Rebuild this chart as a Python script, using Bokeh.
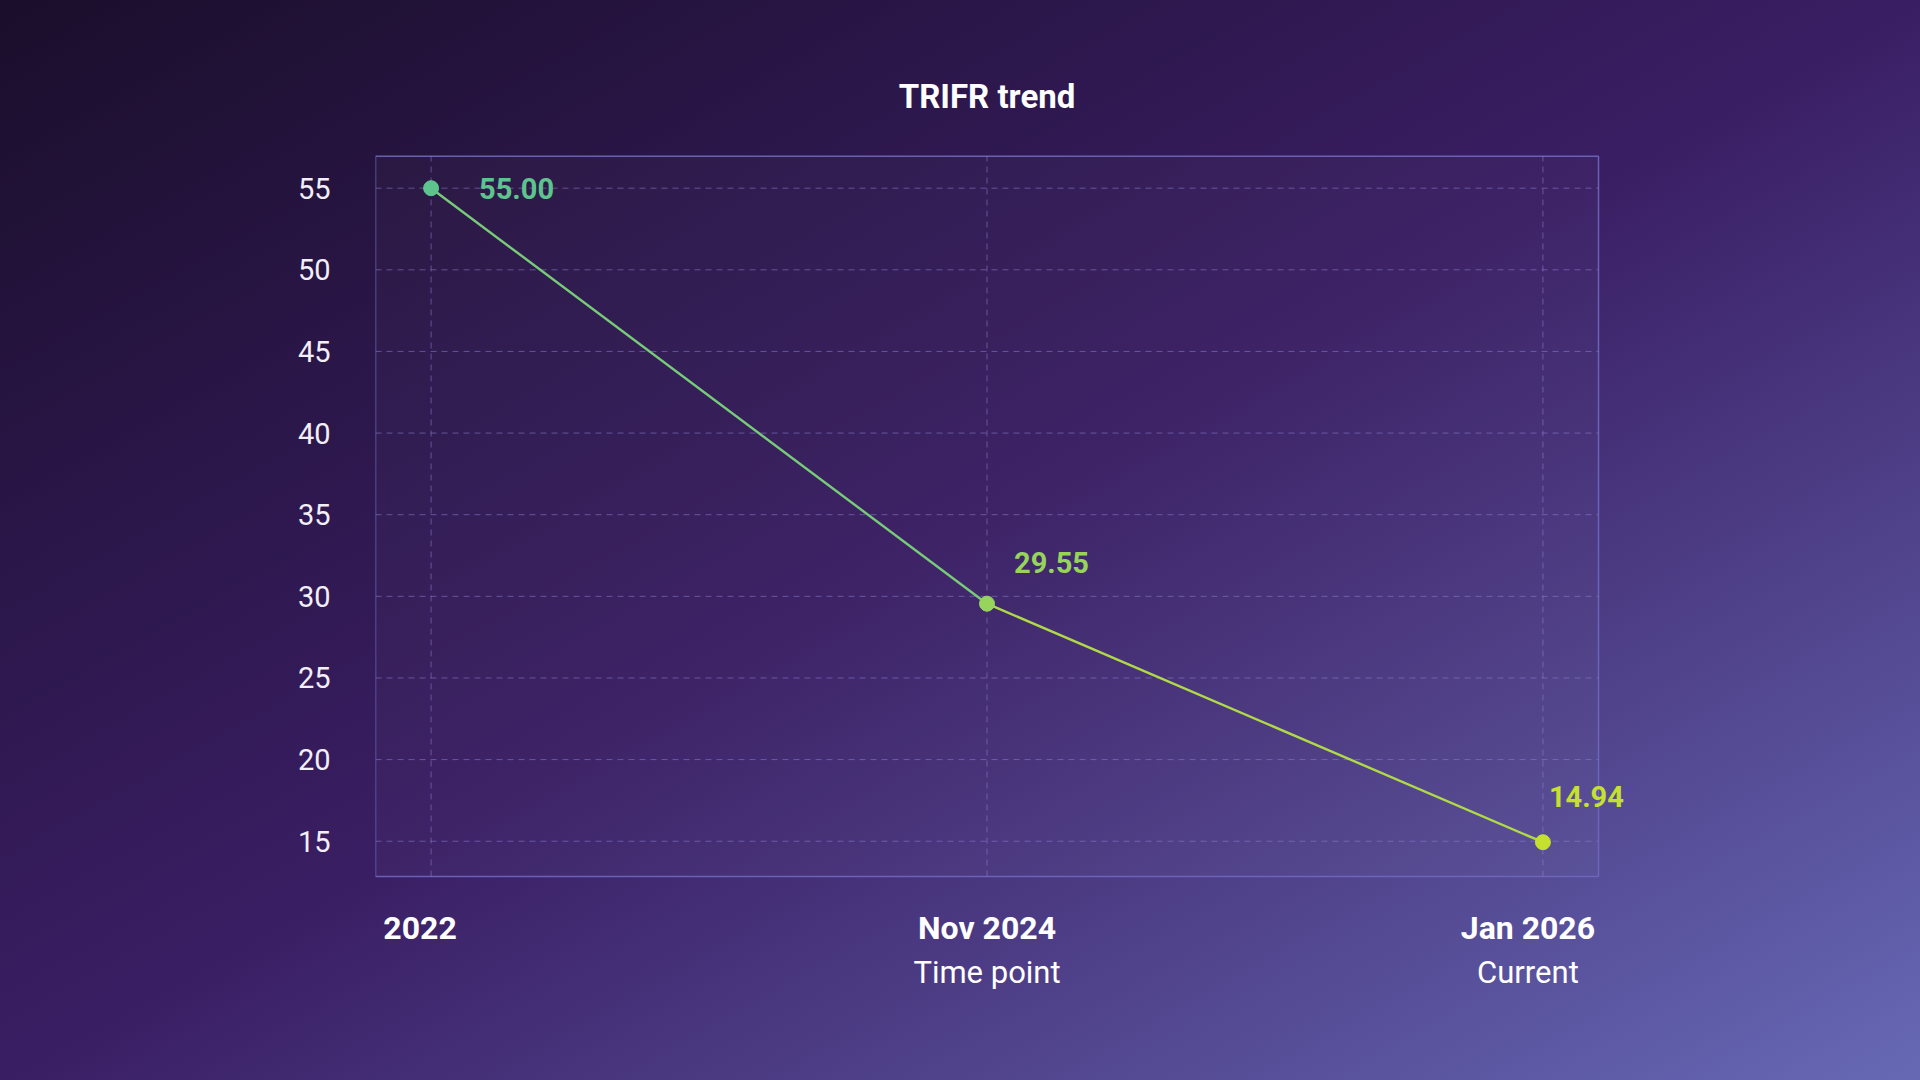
from bokeh.plotting import figure
from bokeh.models import (ColumnDataSource, Label, FixedTicker, Range1d,
                          GlobalInlineStyleSheet)
from bokeh.embed import file_html
from bokeh.resources import INLINE

# ---- data ----
categories = ["2022", "Nov 2024", "Jan 2026"]
subtitles = ["", "Time point", "Current"]
values = [55.00, 29.55, 14.94]
value_labels = ["55.00", "29.55", "14.94"]
y_ticks = [15, 20, 25, 30, 35, 40, 45, 50, 55]
title = "TRIFR trend"

# ---- styles ----
point_colors = ["#5ec48e", "#97d45c", "#c6e030"]
segment_colors = ["#78cb78", "#afda46"]
label_dx = [48, 27, 6]
label_dy = [0, 41, 46]
cat_dx = [-11, 0, -15]

FONT = "Roboto"
xs = list(range(len(categories)))
# visible plot box (data units)
X0, X1 = -0.1, 2.1
Y0, Y1 = 12.84, 56.96
# drawing frame extends beyond the box so outside texts are not clipped
XE = 2.2115
YB, YT = 4.632, 62.82

p = figure(width=1904, height=1064, output_backend="svg", toolbar_location=None,
           x_range=Range1d(X0, XE), y_range=Range1d(YB, YT),
           x_axis_location=None, min_border_left=375, min_border_right=244,
           min_border_top=60, min_border_bottom=54)
p.stylesheets = [GlobalInlineStyleSheet(css=(
    "html{min-height:100%;background:linear-gradient(to bottom right,"
    "#1a0e2b 0%,#3a1e64 50%,#6769b5 100%) fixed;}"
    "body{background:transparent;}"))]
p.styles = {"background": "transparent"}
p.border_fill_alpha = 0
p.background_fill_alpha = 0
p.outline_line_color = None
p.xgrid.visible = False
p.ygrid.visible = False

yax = p.yaxis[0]
yax.ticker = FixedTicker(ticks=y_ticks)
yax.axis_line_color = None
yax.major_tick_line_color = None
yax.minor_tick_line_color = None
yax.major_tick_out = 0
yax.major_label_standoff = 45
yax.major_label_text_color = "#f2eff8"
yax.major_label_text_font = FONT
yax.major_label_text_font_size = "29px"

# plot box
p.quad(left=[X0], right=[X1], bottom=[Y0], top=[Y1], fill_color="#ffffff",
       fill_alpha=0.025, line_color="#7068bc", line_width=1.5, line_alpha=0.9)

# grid lines
grid_style = dict(line_color="#8c82d4", line_alpha=0.55, line_dash="6 5", line_width=1)
p.segment(x0=[X0] * len(y_ticks), y0=y_ticks, x1=[X1] * len(y_ticks), y1=y_ticks,
          **grid_style)
p.segment(x0=xs, y0=[Y0] * len(xs), x1=xs, y1=[Y1] * len(xs), **grid_style)

seg = ColumnDataSource(dict(x0=xs[:-1], y0=values[:-1], x1=xs[1:], y1=values[1:],
                            c=segment_colors))
p.segment("x0", "y0", "x1", "y1", source=seg, line_color="c", line_width=2.4)

src = ColumnDataSource(dict(x=xs, y=values, c=point_colors))
p.scatter("x", "y", source=src, size=15, fill_color="c", line_color="c")

# title centred over the plot box
p.add_layout(Label(x=(X0 + X1) / 2, y=Y1, text=title, y_offset=60,
                   text_align="center", text_baseline="middle", text_color="#ffffff",
                   text_font=FONT, text_font_size="33px", text_font_style="bold"))

for i, x in enumerate(xs):
    p.add_layout(Label(x=x, y=values[i], text=value_labels[i],
                       x_offset=label_dx[i], y_offset=label_dy[i],
                       text_color=point_colors[i], text_font=FONT,
                       text_font_size="29px", text_font_style="bold",
                       text_align="left", text_baseline="middle"))
    p.add_layout(Label(x=x, y=Y0, text=categories[i], x_offset=cat_dx[i], y_offset=-52,
                       text_align="center", text_baseline="middle",
                       text_color="#ffffff", text_font=FONT, text_font_size="32px",
                       text_font_style="bold"))
    if subtitles[i]:
        p.add_layout(Label(x=x, y=Y0, text=subtitles[i], x_offset=cat_dx[i], y_offset=-96,
                           text_align="center", text_baseline="middle",
                           text_color="#ffffff", text_font=FONT, text_font_size="31px"))

open("out.html", "w").write(file_html(p, INLINE))
